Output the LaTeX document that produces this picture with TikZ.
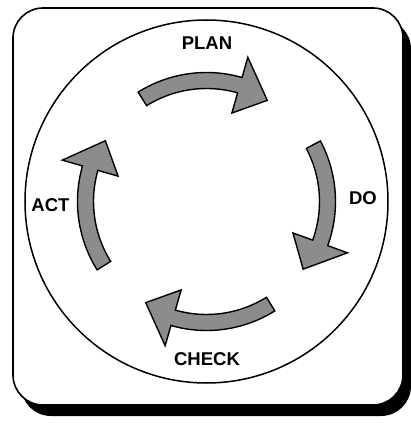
\documentclass[tikz,border=0pt]{standalone}
\usepackage{fontspec}
\setmainfont{Liberation Sans}
\definecolor{arrowgray}{rgb}{0.55,0.55,0.55}
\begin{document}
\begin{tikzpicture}[x=1pt,y=1pt,
  frame/.style={line width=1.6pt, rounded corners=30pt},
  ring/.style={line width=1.5pt},
  cyclearrow/.style={draw=black, line width=1.4pt, fill=arrowgray, line join=miter},
  lbl/.style={font=\fontsize{18.5}{20}\selectfont\bfseries, inner sep=0pt}]
\useasboundingbox (-206.5,201.5) rectangle (204.5,-221.5);
% shadow and frame
\fill[rounded corners=30pt] (-185.5,182.5) rectangle (204.5,-214.5);
\filldraw[frame, fill=white] (-193.5,193.5) rectangle (196.5,-203.5);
% circle
\node[ring, draw, circle, minimum size=363pt, inner sep=0pt] (ring) at (0,0) {};
% arrows
\foreach \t in {90,-4,-90,180}{
  \draw[cyclearrow]
    ({\t+32}:129) arc[start angle={\t+32}, end angle={\t-16}, radius=129]
    -- ({\t-16}:150) -- ({\t-31}:118) -- ({\t-16}:92)
    -- ({\t-16}:113) arc[start angle={\t-16}, end angle={\t+32}, radius=113]
    -- cycle;
}
% labels
\node[lbl] (plan) at (0.5,158.5) {PLAN};
\node[lbl] (do) at (156.5,3.5) {DO};
\node[lbl] (check) at (0.5,-157.5) {CHECK};
\node[lbl] (act) at (-156,-3.5) {ACT};
\end{tikzpicture}
\end{document}
